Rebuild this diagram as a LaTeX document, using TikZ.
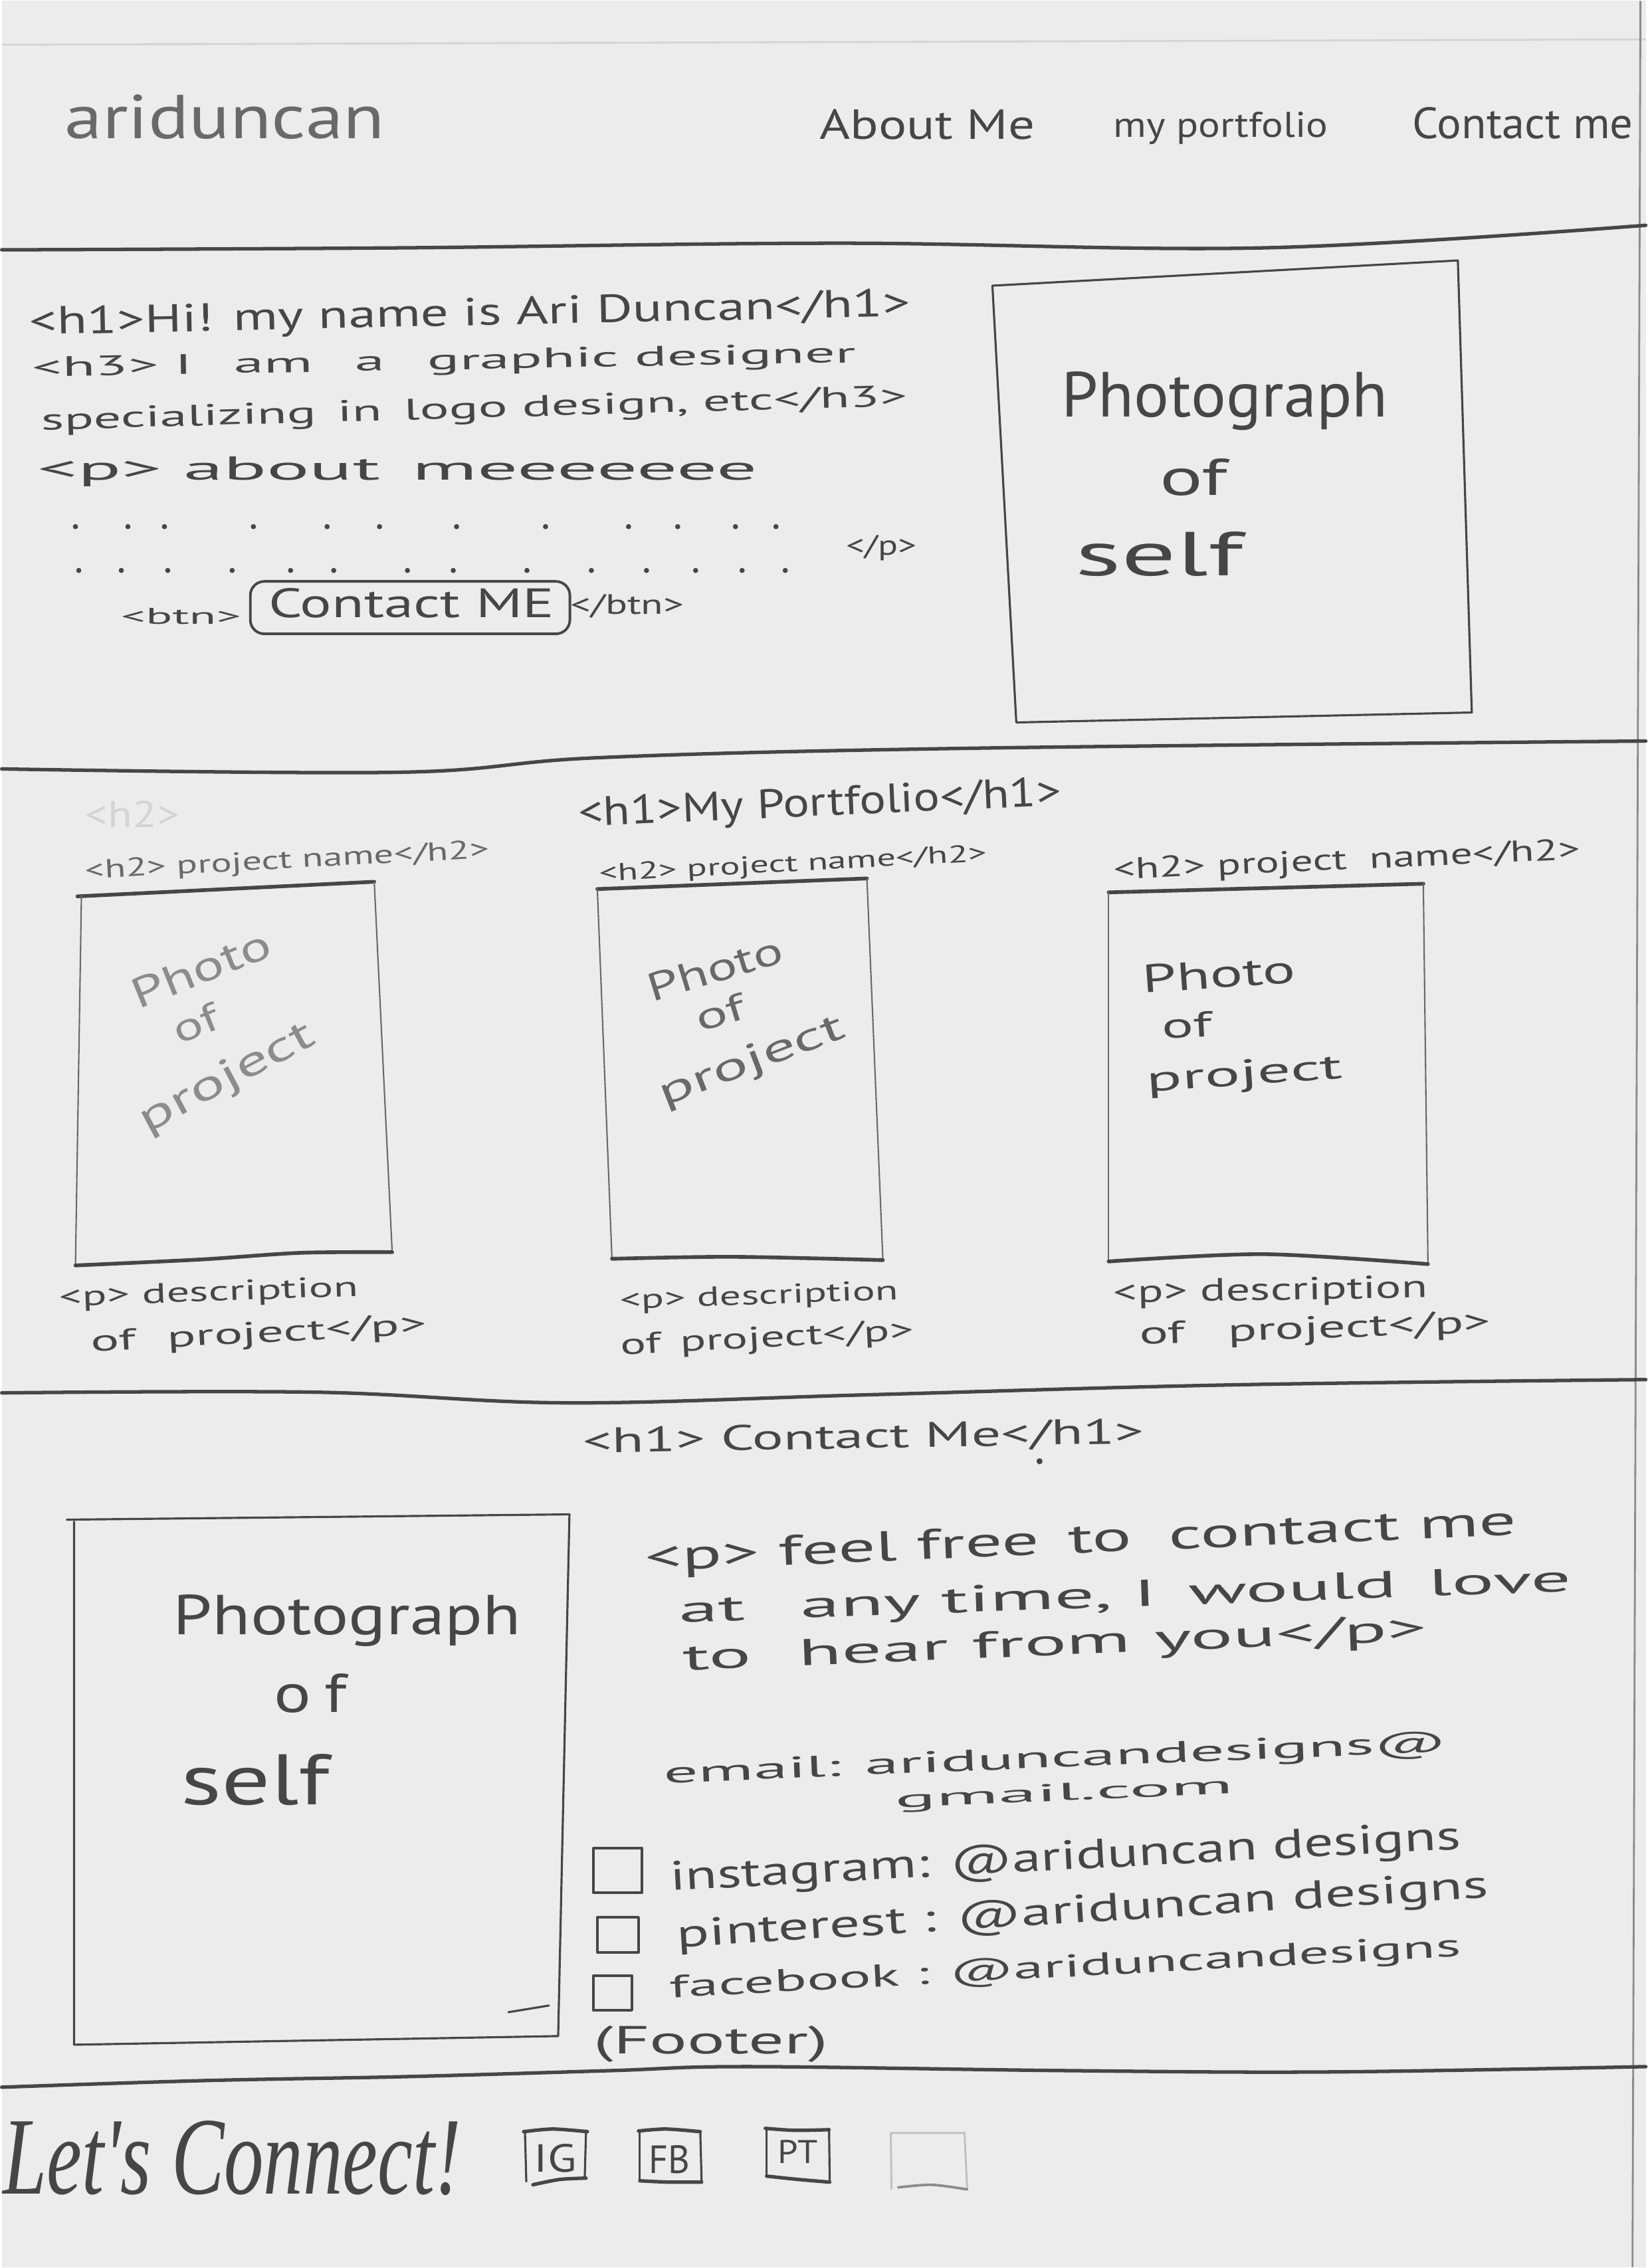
\documentclass[tikz,border=0pt]{standalone}
\usepackage{fontspec}
\usepackage{graphicx}
\setmainfont{PT Sans}
\newfontfamily\letsfont{Liberation Serif}
\definecolor{paper}{RGB}{236,236,236}
\definecolor{pencil}{RGB}{70,70,70}
\definecolor{pencilsoft}{RGB}{105,105,105}
\definecolor{pencilfaint}{RGB}{140,140,140}
\definecolor{ghost}{RGB}{212,212,212}
% handwritten-looking label: fit to a width and a letter height
\newcommand\hw[3]{\resizebox{#1}{#2}{#3}}
\begin{document}
\begin{tikzpicture}[x=0.01cm,y=-0.01cm,
  txt/.style={inner sep=0pt,text=pencil},
  soft/.style={inner sep=0pt,text=pencilsoft},
  pale/.style={inner sep=0pt,text=pencilfaint},
  sectionrule/.style={draw=pencil,line width=1.5pt,line cap=round,line join=round},
  boxedge/.style={draw=pencil,line width=0.9pt,line cap=round,line join=round},
  thinedge/.style={draw=pencilsoft,line width=0.6pt,line cap=round},
  heavyedge/.style={draw=pencil,line width=1.6pt,line cap=round},
  iconside/.style={draw=pencil,line width=0.9pt,line cap=round},
  iconcap/.style={draw=pencil,line width=1.5pt,line cap=round},
]
% paper
\fill[paper] (0,0) rectangle (2476,3414);
\draw[ghost,line width=0.8pt] (0,66) -- (2476,58);
\draw[pencilfaint,line width=0.8pt] (2468,0) -- (2456,3414);

% ---------- header ----------
\node[soft] (logo) at (336,175) {\hw{4.82cm}{0.66cm}{ariduncan}};
\node[txt] (navAbout) at (1394,186) {\hw{3.24cm}{0.45cm}{About Me}};
\node[txt] (navPortfolio) at (1836,192) {\hw{3.23cm}{0.38cm}{my portfolio}};
\node[txt] (navContact) at (2291,184) {\hw{3.32cm}{0.47cm}{Contact me}};
\draw[sectionrule] plot[smooth,tension=0.6] coordinates {(0,375) (600,372) (1264,365) (1900,372) (2476,338)};

% ---------- hero ----------
\node[txt,rotate=1.2] (heroH1) at (705,474) {\hw{13.27cm}{0.42cm}{<h1>Hi! my name is Ari Duncan</h1>}};
\node[txt,rotate=1.0] (heroH3a) at (666,545) {\hw{12.4cm}{0.3cm}{<h3> I\hspace{0.7em}am\hspace{0.7em}a\hspace{0.7em}graphic designer}};
\node[txt,rotate=1.6] (heroH3b) at (712,617) {\hw{13.04cm}{0.32cm}{specializing\hspace{0.4em}in\hspace{0.4em}logo design, etc</h3>}};
\node[txt] (heroP) at (596,709) {\hw{10.83cm}{0.35cm}{<p> about\hspace{0.4em}meeeeeee}};
\foreach \x in {111,190,245,379,490,569,685,819,944,1018,1105,1166}
  \fill[pencil] (\x,792) circle (1.1pt);
\foreach \x in {116,180,250,347,435,500,611,680,791,888,971,1045,1115,1180}
  \fill[pencil] (\x,858) circle (1.1pt);
\node[txt] (heroPend) at (1325,824) {\hw{1.06cm}{0.3cm}{</p>}};
\node[txt] (btnOpen) at (270,927) {\hw{1.81cm}{0.24cm}{<btn>}};
\node[draw=pencil,line width=1.1pt,rounded corners=6pt,minimum width=4.81cm,minimum height=0.79cm,inner sep=0pt] (btnBox) at (615,914) {};
\node[txt] (btnText) at (617,907) {\hw{4.3cm}{0.44cm}{Contact ME}};
\node[txt] (btnClose) at (942,912) {\hw{1.71cm}{0.3cm}{</btn>}};

\draw[boxedge] (1492,429) -- (2193,391) -- (2214,1072) -- (1528,1087) -- cycle;
\node[txt] (heroPhotoA) at (1842,603) {\hw{4.91cm}{0.68cm}{Photograph}};
\node[txt] (heroPhotoB) at (1795,718) {\hw{1.02cm}{0.55cm}{of}};
\node[txt] (heroPhotoC) at (1743,833) {\hw{2.52cm}{0.66cm}{self}};
\draw[sectionrule] plot[smooth,tension=0.6] coordinates {(0,1157) (600,1162) (900,1140) (1450,1126) (2476,1115)};

% ---------- portfolio ----------
\node[inner sep=0pt,text=ghost] (ghostH2) at (197,1225) {\hw{1.42cm}{0.4cm}{<h2>}};
\node[txt,rotate=2.5] (portH1) at (1232,1212) {\hw{7.27cm}{0.44cm}{<h1>My Portfolio</h1>}};
\node[soft,rotate=3] (projName1) at (430,1297) {\hw{6.09cm}{0.28cm}{<h2> project name</h2>}};
\node[txt,rotate=3] (projName2) at (1192,1302) {\hw{5.85cm}{0.26cm}{<h2> project name</h2>}};
\node[txt,rotate=2.5] (projName3) at (2026,1297) {\hw{7.03cm}{0.32cm}{<h2> project\hspace{0.5em}name</h2>}};

% project cards
\draw[heavyedge] (114,1349) -- (561,1327);
\draw[thinedge] (120,1348) -- (111,1905);
\draw[thinedge] (561,1327) -- (588,1885);
\draw[heavyedge] plot[smooth] coordinates {(111,1905) (300,1896) (450,1886) (588,1885)};
\draw[heavyedge] (897,1338) -- (1303,1322);
\draw[thinedge] (897,1338) -- (919,1895);
\draw[thinedge] (1303,1322) -- (1327,1895);
\draw[heavyedge] plot[smooth] coordinates {(919,1895) (1100,1892) (1327,1897)};
\draw[heavyedge] (1667,1343) -- (2141,1330);
\draw[thinedge] (1667,1343) -- (1667,1899);
\draw[thinedge] (2141,1330) -- (2148,1903);
\draw[heavyedge] plot[smooth] coordinates {(1667,1899) (1900,1888) (2148,1903)};

\node[pale,rotate=22] (photo1a) at (300,1458) {\hw{2.2cm}{0.45cm}{Photo}};
\node[pale,rotate=22] (photo1b) at (292,1540) {\hw{0.7cm}{0.42cm}{of}};
\node[pale,rotate=28] (photo1c) at (340,1624) {\hw{2.9cm}{0.45cm}{project}};
\node[soft,rotate=17] (photo2a) at (1074,1458) {\hw{2.1cm}{0.42cm}{Photo}};
\node[soft,rotate=17] (photo2b) at (1082,1524) {\hw{0.75cm}{0.4cm}{of}};
\node[soft,rotate=21] (photo2c) at (1130,1599) {\hw{2.95cm}{0.42cm}{project}};
\node[txt,rotate=4] (photo3a) at (1833,1466) {\hw{2.3cm}{0.42cm}{Photo}};
\node[txt,rotate=3] (photo3b) at (1785,1543) {\hw{0.75cm}{0.38cm}{of}};
\node[txt,rotate=4] (photo3c) at (1872,1620) {\hw{2.95cm}{0.38cm}{project}};

\node[txt,rotate=2] (desc1a) at (312,1948) {\hw{4.5cm}{0.3cm}{<p> description}};
\node[txt,rotate=3] (desc1b) at (387,2010) {\hw{5.06cm}{0.32cm}{of\hspace{0.6em}project</p>}};
\node[txt,rotate=2] (desc2a) at (1141,1953) {\hw{4.19cm}{0.29cm}{<p> description}};
\node[txt,rotate=3] (desc2b) at (1153,2017) {\hw{4.42cm}{0.32cm}{of\hspace{0.4em}project</p>}};
\node[txt,rotate=1] (desc3a) at (1911,1945) {\hw{4.73cm}{0.34cm}{<p> description}};
\node[txt,rotate=2] (desc3b) at (1978,2003) {\hw{5.29cm}{0.34cm}{of\hspace{0.8em}project</p>}};
\draw[sectionrule] plot[smooth,tension=0.6] coordinates {(0,2097) (474,2096) (850,2112) (1300,2100) (1850,2085) (2476,2077)};

% ---------- contact ----------
\node[txt,rotate=1] (contactH1) at (1298,2165) {\hw{8.45cm}{0.38cm}{<h1> Contact Me</h1>}};
\fill[pencil] (1563,2200) circle (1.3pt);

\draw[boxedge] (98,2288) -- (855,2280) -- (838,3066) -- (109,3079) -- (109,2291);
\draw[boxedge] (763,3030) -- (824,3020);
\node[txt] (contactPhotoA) at (520,2440) {\hw{5.23cm}{0.6cm}{Photograph}};
\node[txt] (contactPhotoB) at (465,2550) {\hw{1.1cm}{0.58cm}{o\hspace{0.2em}f}};
\node[txt] (contactPhotoC) at (382,2680) {\hw{2.24cm}{0.76cm}{self}};

\node[txt,rotate=2.4] (msg1) at (1625,2322) {\hw{13.12cm}{0.45cm}{<p> feel free\hspace{0.4em}to\hspace{0.5em}contact me}};
\node[txt,rotate=2.0] (msg2) at (1692,2405) {\hw{13.43cm}{0.4cm}{at\hspace{0.7em}any time, I\hspace{0.4em}would\hspace{0.4em}love}};
\node[txt,rotate=2.3] (msg3) at (1586,2478) {\hw{11.21cm}{0.4cm}{to\hspace{0.6em}hear\hspace{0.3em}from\hspace{0.3em}you</p>}};

\node[txt,rotate=2.3] (email1) at (1587,2650) {\hw{11.79cm}{0.32cm}{email: ariduncandesigns@}};
\node[txt,rotate=2.5] (email2) at (1600,2702) {\hw{5.09cm}{0.26cm}{gmail.com}};

\draw[boxedge,line width=1.1pt] (891,2783) rectangle (964,2850);
\draw[boxedge,line width=1.1pt] (897,2887) rectangle (959,2940);
\draw[boxedge,line width=1.1pt] (891,2975) rectangle (949,3027);
\node[txt,rotate=3] (socialIG) at (1602,2800) {\hw{11.92cm}{0.44cm}{instagram: @ariduncan designs}};
\node[txt,rotate=3.5] (socialPT) at (1628,2880) {\hw{12.24cm}{0.42cm}{pinterest : @ariduncan designs}};
\node[txt,rotate=3] (socialFB) at (1602,2965) {\hw{11.92cm}{0.34cm}{facebook : @ariduncandesigns}};
\node[txt] (footerNote) at (1068,3078) {\hw{3.53cm}{0.42cm}{(Footer)}};
\draw[sectionrule] plot[smooth,tension=0.6] coordinates {(0,3143) (306,3133) (612,3127) (918,3118) (1122,3112) (1600,3118) (2000,3120) (2476,3112)};

% ---------- footer ----------
\node[txt] (letsConnect) at (347,3250) {\hw{6.9cm}{1.1cm}{\letsfont\itshape Let's Connect!}};
% social icons: thin sides, heavier top and bottom strokes
\draw[iconside] (788,3210) -- (790,3285);
\draw[iconside] (880,3208) -- (878,3280);
\draw[iconcap] plot[smooth] coordinates {(786,3210) (830,3206) (882,3210)};
\draw[iconcap] plot[smooth] coordinates {(800,3290) (840,3282) (880,3280)};
\node[txt] (iconIG) at (834,3250) {\hw{0.64cm}{0.42cm}{IG}};
\draw[iconside] (961,3209) -- (961,3282);
\draw[iconside] (1052,3209) -- (1054,3284);
\draw[iconcap] plot[smooth] coordinates {(959,3209) (1000,3206) (1052,3210)};
\draw[iconcap] plot[smooth] coordinates {(961,3284) (1005,3286) (1054,3286)};
\node[txt] (iconFB) at (1006,3252) {\hw{0.62cm}{0.42cm}{FB}};
\draw[iconside] (1152,3205) -- (1152,3277);
\draw[iconside] (1246,3207) -- (1247,3284);
\draw[iconcap] plot[smooth] coordinates {(1150,3205) (1195,3208) (1246,3207)};
\draw[iconcap] plot[smooth] coordinates {(1152,3277) (1200,3282) (1247,3286)};
\node[txt] (iconPT) at (1199,3240) {\hw{0.6cm}{0.35cm}{PT}};
\draw[draw=ghost!70!pencilfaint,line width=0.8pt] (1340,3297) -- (1339,3212) -- (1450,3212) -- (1454,3297);
\draw[draw=pencilfaint,line width=1.1pt,line cap=round] plot[smooth] coordinates {(1350,3294) (1400,3290) (1454,3297)};
\end{tikzpicture}
\end{document}
